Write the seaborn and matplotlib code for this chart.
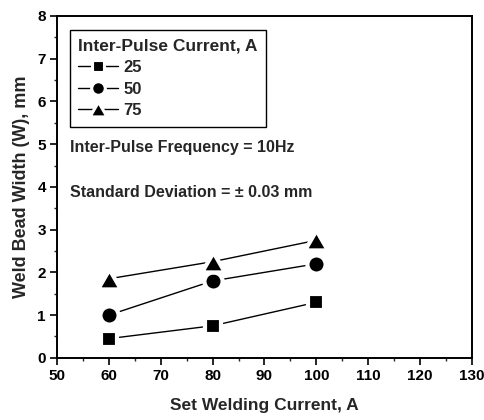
import matplotlib
matplotlib.use("Agg")
import matplotlib.pyplot as plt
import seaborn as sns
import pandas as pd
from matplotlib.ticker import MultipleLocator

# Weld bead width versus set welding current, per inter-pulse current
welding_current = [60, 80, 100]
width_25 = [0.45, 0.75, 1.3]
width_50 = [1.0, 1.8, 2.2]
width_75 = [1.85, 2.25, 2.75]
series_labels = ["25", "50", "75"]

df = pd.DataFrame({
    "current": welding_current * 3,
    "width": width_25 + width_50 + width_75,
    "ipc": [series_labels[0]] * 3 + [series_labels[1]] * 3 + [series_labels[2]] * 3,
})

sns.set_theme(style="ticks")
plt.rcParams["font.family"] = ["Liberation Sans", "DejaVu Sans"]
plt.rcParams["font.weight"] = "bold"

fig = plt.figure(figsize=(4.85, 4.2), dpi=100)
ax = fig.add_axes([0.1175, 0.148, 0.8555, 0.814])

# near-equilateral triangle marker
tri = [(-1.0, -0.866), (1.0, -0.866), (0.0, 0.866), (-1.0, -0.866)]
marker_list = ["s", "o", tri]
marker_sizes = [12.1, 13.1, 16.5]
edge_w = 3.0

sns.lineplot(
    data=df, x="current", y="width", hue="ipc", style="ipc",
    palette=["black"] * 3, markers=marker_list, dashes=False,
    markeredgecolor="white", markeredgewidth=edge_w,
    linewidth=1.0, ax=ax, legend=True,
)
for line, ms in zip(ax.lines[:3], marker_sizes):
    line.set_markersize(ms)
    line.set_markeredgewidth(edge_w)
    line.set_markeredgecolor("white")

ax.set_xlim(50, 130)
ax.set_ylim(0, 8)
ax.xaxis.set_major_locator(MultipleLocator(10))
ax.xaxis.set_minor_locator(MultipleLocator(5))
ax.yaxis.set_major_locator(MultipleLocator(1))
ax.yaxis.set_minor_locator(MultipleLocator(0.5))
ax.tick_params(which="major", direction="out", length=5, width=1.2,
               labelsize=11, colors="black", top=False, right=False, pad=3)
ax.tick_params(which="minor", direction="out", length=2.5, width=1.0,
               top=False, right=False)
for lab in ax.get_xticklabels() + ax.get_yticklabels():
    lab.set_fontweight("bold")
for sp in ax.spines.values():
    sp.set_linewidth(1.4)
    sp.set_color("black")

ax.set_xlabel("Set Welding Current, A", fontsize=12.5, fontweight="bold", labelpad=11)
ax.set_ylabel("Weld Bead Width (W), mm", fontsize=13, fontweight="bold", labelpad=5)

handles, labels = ax.get_legend_handles_labels()
for h, ms in zip(handles, marker_sizes):
    h.set_markersize(ms * 0.75)
    h.set_markeredgewidth(edge_w * 0.75)
    h.set_markeredgecolor("white")
    h.set_linewidth(1.0)
leg = ax.legend(
    handles, labels, title="Inter-Pulse Current, A", loc="upper left",
    bbox_to_anchor=(0.031, 0.959), frameon=True, fancybox=False,
    edgecolor="black", framealpha=1, borderaxespad=0, handlelength=2.4,
    handletextpad=0.3, labelspacing=0.4, borderpad=0.5,
    prop={"size": 12, "weight": "bold"},
)
leg.get_title().set_fontweight("bold")
leg.get_title().set_fontsize(12.5)
leg._legend_box.align = "left"
leg.get_frame().set_linewidth(1.0)

ax.text(0.031, 0.615, "Inter-Pulse Frequency = 10Hz", transform=ax.transAxes,
        fontsize=11.5, fontweight="bold", va="center")
ax.text(0.031, 0.483, "Standard Deviation = \u00b1 0.03 mm", transform=ax.transAxes,
        fontsize=11.5, fontweight="bold", va="center")

fig.savefig("out.png", dpi=100, facecolor="white")
